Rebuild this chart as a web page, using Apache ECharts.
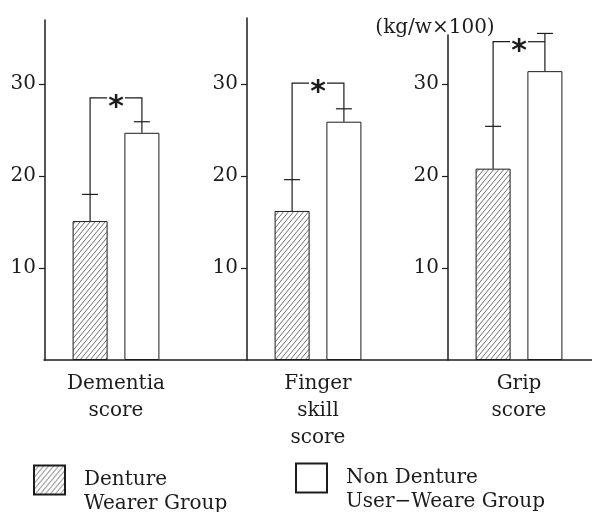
<!DOCTYPE html>
<html>
<head>
<meta charset="utf-8">
<script src="https://cdn.jsdelivr.net/npm/echarts@6/dist/echarts.min.js"></script>
<style>
  html, body { margin: 0; padding: 0; background: #fff; }
  #chart { width: 592px; height: 512px; }
</style>
</head>
<body>
<div id="chart"></div>
<script>
// Scores of the two groups, one panel per measure
const panelLabels = ['Dementia\nscore', 'Finger\nskill\nscore', 'Grip\nscore'];
const groupNames = ['Denture\nWearer Group', 'Non Denture\nUser\u2212Weare Group'];
const wearerMean = [15.1, 16.2, 20.8];
const wearerUpper = [18.0, 19.6, 25.4];
const nonWearerMean = [24.7, 25.9, 31.4];
const nonWearerUpper = [25.9, 27.3, 35.5];
const bracketLevel = [28.5, 30.1, 34.6];
const yTicks = [10, 20, 30];
const axisMax = [36.96, 37.17, 35.33];
const unitLabel = '(kg/w\u00d7100)';

const INK = '#1c1c1c';
const SERIF = 'DejaVu Serif';
const panelLeft = [45, 247, 448];
const panelTop = [20, 18, 35];
const BAR_W = 35;
const BAR_GAP = '48%';

// diagonal hatch fill (one "/" stroke per tile, tiles join seamlessly)
function hatch() {
  const w = 5, h = 6;
  const c = document.createElement('canvas');
  c.width = w; c.height = h;
  const g = c.getContext('2d');
  g.strokeStyle = '#555';
  g.lineWidth = 0.85;
  g.beginPath();
  g.moveTo(0, h); g.lineTo(w, 0);
  g.moveTo(-w, h); g.lineTo(0, 0);
  g.moveTo(w, h); g.lineTo(2 * w, 0);
  g.stroke();
  return { image: c, repeat: 'repeat' };
}
const hatchFill = hatch();

function barCenters(api) {
  const lay = api.barLayout({ count: 2, barWidth: BAR_W, barGap: BAR_GAP });
  const base = api.coord([api.value(0), 0]);
  return [base[0] + lay[0].offsetCenter, base[0] + lay[1].offsetCenter];
}

// mean → upper error with a cap
function renderError(params, api) {
  const xs = barCenters(api);
  const x = xs[api.value(3)];
  const yBar = api.coord([0, api.value(1)])[1];
  const yTop = api.coord([0, api.value(2)])[1];
  const style = { stroke: INK, lineWidth: 1.2, fill: null };
  return {
    type: 'group',
    children: [
      { type: 'line', shape: { x1: x, y1: yBar, x2: x, y2: yTop }, style },
      { type: 'line', shape: { x1: x - 8, y1: yTop, x2: x + 8, y2: yTop }, style }
    ]
  };
}

// significance bracket with asterisk
function renderBracket(params, api) {
  const xs = barCenters(api);
  const x1 = xs[0], x2 = xs[1], xc = (x1 + x2) / 2;
  const yL = api.coord([0, api.value(1)])[1];
  const yR = api.coord([0, api.value(2)])[1];
  const yB = api.coord([0, api.value(3)])[1];
  const style = { stroke: INK, lineWidth: 1.2, fill: null };
  return {
    type: 'group',
    children: [
      { type: 'polyline', shape: { points: [[x1, yL], [x1, yB], [xc - 9, yB]] }, style },
      { type: 'polyline', shape: { points: [[xc + 9, yB], [x2, yB], [x2, Math.max(yB, yR)]] }, style },
      {
        type: 'text', x: xc, y: yB + 10,
        style: {
          text: '*', fill: INK, font: 'bold 30px "DejaVu Sans"',
          textAlign: 'center', textVerticalAlign: 'middle'
        }
      }
    ]
  };
}

const grids = [], xAxes = [], yAxes = [], series = [];

panelLabels.forEach((label, i) => {
  grids.push({ left: panelLeft[i], top: panelTop[i], width: 142, bottom: 152 });
  xAxes.push({
    type: 'category', gridIndex: i, data: [label],
    axisLine: { show: false }, axisTick: { show: false },
    axisLabel: { margin: 10, fontFamily: SERIF, fontSize: 20, lineHeight: 27, color: INK }
  });
  const y = {
    type: 'value', gridIndex: i, min: 0, max: axisMax[i], interval: 10,
    axisLine: { show: true, lineStyle: { color: INK, width: 1.5 } },
    axisTick: { show: true, length: 6, customValues: yTicks, lineStyle: { color: INK, width: 1.2 } },
    axisLabel: { customValues: yTicks, margin: 9, fontFamily: SERIF, fontSize: 20, color: INK },
    splitLine: { show: false }
  };
  if (i === 2) {
    y.name = unitLabel;
    y.nameLocation = 'end';
    y.nameGap = -3;
    y.nameTextStyle = {
      fontFamily: SERIF, fontSize: 20, color: INK,
      align: 'center', verticalAlign: 'bottom', padding: [0, 26, 0, 0]
    };
  }
  yAxes.push(y);

  series.push({
    type: 'bar', name: groupNames[0], xAxisIndex: i, yAxisIndex: i,
    data: [wearerMean[i]], barWidth: BAR_W, barGap: BAR_GAP,
    itemStyle: { color: hatchFill, borderColor: INK, borderWidth: 1 }
  });
  series.push({
    type: 'bar', name: groupNames[1], xAxisIndex: i, yAxisIndex: i,
    data: [nonWearerMean[i]], barWidth: BAR_W, barGap: BAR_GAP,
    itemStyle: { color: '#fff', borderColor: INK, borderWidth: 1 }
  });
  series.push({
    type: 'custom', xAxisIndex: i, yAxisIndex: i, z: 5,
    renderItem: renderError,
    data: [[0, wearerMean[i], wearerUpper[i], 0], [0, nonWearerMean[i], nonWearerUpper[i], 1]]
  });
  series.push({
    type: 'custom', xAxisIndex: i, yAxisIndex: i, z: 5,
    renderItem: renderBracket,
    data: [[0, wearerUpper[i], nonWearerUpper[i], bracketLevel[i]]]
  });
});

// shared baseline across all panels
grids.push({ left: 44, right: 0, top: 20, bottom: 152 });
xAxes.push({
  type: 'value', gridIndex: 3, min: 0, max: 1,
  axisLine: { show: true, lineStyle: { color: INK, width: 1.5 } },
  axisTick: { show: false }, axisLabel: { show: false }, splitLine: { show: false }
});
yAxes.push({ type: 'value', gridIndex: 3, show: false });

// the label's first line sits level with the swatch
const legendText = { fontFamily: SERIF, fontSize: 20, lineHeight: 24, color: INK };
const legendLabel = (name) => '\n' + name;

const option = {
  backgroundColor: '#fff',
  animation: false,
  grid: grids,
  xAxis: xAxes,
  yAxis: yAxes,
  legend: [
    {
      data: [groupNames[0]], left: 33, top: 444, padding: 0, selectedMode: false,
      icon: 'rect', itemWidth: 31, itemHeight: 29, formatter: legendLabel,
      textStyle: Object.assign({ padding: [0, 0, 0, 14] }, legendText)
    },
    {
      data: [groupNames[1]], left: 295, top: 442, padding: 0, selectedMode: false,
      icon: 'rect', itemWidth: 31, itemHeight: 29, formatter: legendLabel,
      textStyle: Object.assign({ padding: [0, 0, 0, 14] }, legendText)
    }
  ],
  series: series
};

const chart = echarts.init(document.getElementById('chart'), null, { renderer: 'canvas' });
chart.setOption(option);
</script>
</body>
</html>
